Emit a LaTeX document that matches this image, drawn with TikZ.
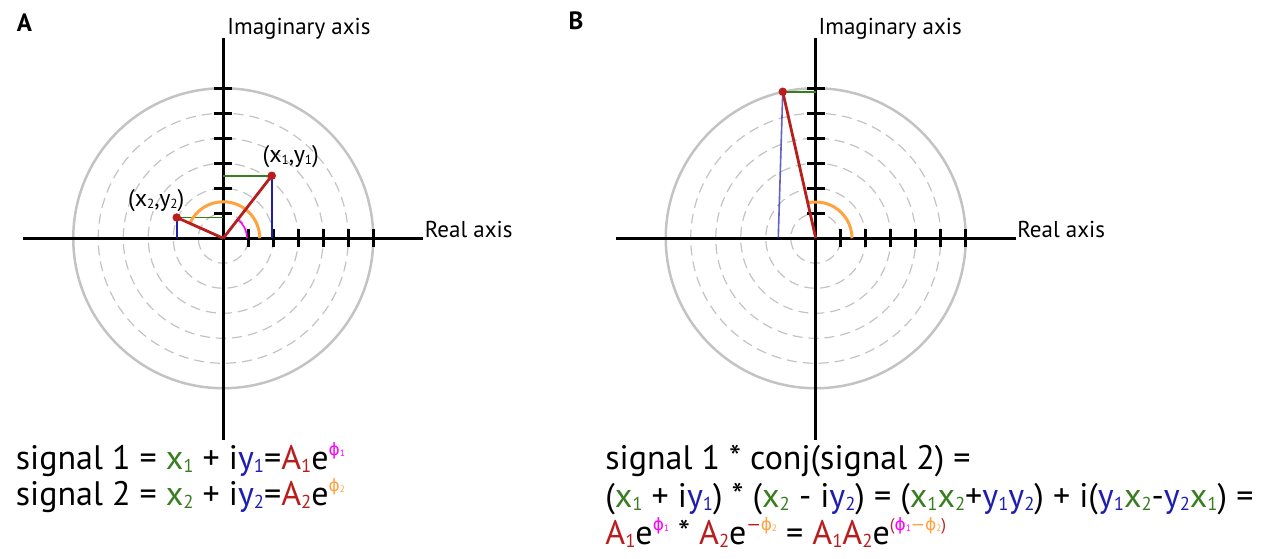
\documentclass[tikz,border=0pt]{standalone}
\usepackage{fontspec}
\setmainfont{PT Sans}
\newfontfamily\greekfont{DejaVu Sans}
\usepackage{graphicx}
\usepackage{xcolor}
\usepackage{tikz}
\usetikzlibrary{calc}
\definecolor{darkred}{RGB}{185,30,30}
\definecolor{darkgreen}{RGB}{56,125,32}
\definecolor{darkblue}{RGB}{30,30,175}
\definecolor{phione}{RGB}{255,0,255}
\definecolor{phitwo}{RGB}{255,162,64}
\definecolor{ringgray}{RGB}{195,195,195}
\newcommand{\subd}[1]{\raisebox{-0.08em}{\scalebox{0.55}{#1}}}
\newcommand{\supr}[1]{\raisebox{0.42em}{\scalebox{0.5}{#1}}}
\newcommand{\phx}[2]{{\color{#1}{\greekfont ϕ}\subd{#2}}}

\begin{document}
\begin{tikzpicture}[x=12.5pt, y=12.5pt, font=\fontsize{17}{20}\selectfont,
    axis/.style={line width=1.5pt, black},
    ring/.style={line width=1.25pt, ringgray},
    ringdash/.style={line width=0.6pt, ringgray, dash pattern=on 5pt off 3pt},
    vector/.style={line width=1.4pt, darkred},
    projx/.style={line width=0.8pt, darkblue},
    projy/.style={line width=0.9pt, darkgreen},
    phaseone/.style={line width=0.8pt, phione},
    phasetwo/.style={line width=1.5pt, phitwo},
    axislabel/.style={anchor=base west, inner sep=0pt, font=\fontsize{11.5}{13}\selectfont},
    ptlabel/.style={font=\fontsize{12}{14}\selectfont},
    panel/.style={font=\fontsize{12.5}{14}\selectfont\bfseries},
    formula/.style={anchor=base west, inner sep=0pt}]
    \useasboundingbox (0,0) rectangle (50.72,22.32);

    % Panel A
    \node[panel] (labA) at (0.98,21.4) {A};
    \begin{scope}[shift={(8.93,12.79)}]
        \foreach \r in {1,...,5}
            \draw[ringdash] (0,0) circle (\r);
        \draw[ring] (0,0) circle (6);
        \draw[axis] (-8,0) -- (8,0);
        \draw[axis] (0,-8.05) -- (0,8);
        \foreach \t in {1,...,6} {
            \draw[axis] (\t,-0.36) -- (\t,0.36);
            \draw[axis] (-0.36,\t) -- (0.36,\t);
        }
        \coordinate (OA) at (0,0);
        \coordinate (P1) at (1.94,2.5);
        \coordinate (P2) at (-1.86,0.83);
        \draw[projy] (P1) -- (P1 -| OA);
        \draw[projx] (P1) -- (P1 |- OA);
        \draw[projy] (P2) -- (P2 -| OA);
        \draw[projx] (P2) -- (P2 |- OA);
        \draw[phaseone] (0.95,0) arc[start angle=0, end angle=52.2, radius=0.95];
        \draw[phasetwo] (1.46,0) arc[start angle=0, end angle=155.9, radius=1.46];
        \draw[vector] (OA) -- (P1);
        \draw[vector] (OA) -- (P2);
        \fill[darkred] (P1) circle (0.17);
        \fill[darkred] (P2) circle (0.17);
        \node[ptlabel] (lP1) at (2.70,3.25) {(x\subd{1},y\subd{1})};
        \node[ptlabel] (lP2) at (-2.68,1.49) {(x\subd{2},y\subd{2})};
        \node[axislabel] (imA) at (0.15,8.13) {Imaginary axis};
        \node[axislabel] (reA) at (8.05,0.05) {Real axis};
    \end{scope}
    \node[formula] (sigA1) at (0.62,3.54) {signal 1 = {\color{darkgreen}x\subd{1}} + i{\color{darkblue}y\subd{1}}={\color{darkred}A\subd{1}}e\supr{\phx{phione}{1}}};
    \node[formula] (sigA2) at (0.62,2.1) {signal 2 = {\color{darkgreen}x\subd{2}} + i{\color{darkblue}y\subd{2}}={\color{darkred}A\subd{2}}e\supr{\phx{phitwo}{2}}};

    % Panel B
    \node[panel] (labB) at (23.04,21.48) {B};
    \begin{scope}[shift={(32.63,12.79)}]
        \foreach \r in {1,...,5}
            \draw[ringdash] (0,0) circle (\r);
        \draw[ring] (0,0) circle (6);
        \draw[axis] (-8,0) -- (8,0);
        \draw[axis] (0,-8.05) -- (0,8);
        \foreach \t in {1,...,6} {
            \draw[axis] (\t,-0.36) -- (\t,0.36);
            \draw[axis] (-0.36,\t) -- (0.36,\t);
        }
        \coordinate (OB) at (0,0);
        \coordinate (Q) at (-1.32,5.86);
        \coordinate (Qx) at (-1.5,0);
        \draw[projy] (Q) -- (Q -| OB);
        \draw[projx, draw opacity=0.7] (Q) -- (Qx);
        \draw[phasetwo] (1.45,0) arc[start angle=0, end angle=102.7, radius=1.45];
        \draw[vector] (OB) -- (Q);
        \fill[darkred] (Q) circle (0.17);
        \node[axislabel] (imB) at (0.1,8.13) {Imaginary axis};
        \node[axislabel] (reB) at (8.05,0.05) {Real axis};
    \end{scope}
    \node[formula] (prod1) at (24.2,3.54) {signal 1 * conj(signal 2) =};
    \node[formula] (prod2) at (24.2,2.02) {({\color{darkgreen}x\subd{1}} + i{\color{darkblue}y\subd{1}}) * ({\color{darkgreen}x\subd{2}} - i{\color{darkblue}y\subd{2}}) = ({\color{darkgreen}x\subd{1}x\subd{2}}+{\color{darkblue}y\subd{1}y\subd{2}}) + i({\color{darkblue}y\subd{1}}{\color{darkgreen}x\subd{2}}-{\color{darkblue}y\subd{2}}{\color{darkgreen}x\subd{1}}) =};
    \node[formula] (prod3) at (24.2,0.54) {{\color{darkred}A\subd{1}}e\supr{\phx{phione}{1}} * {\color{darkred}A\subd{2}}e\supr{{\color{darkred}{\greekfont −}}\phx{phitwo}{2}} = {\color{darkred}A\subd{1}A\subd{2}}e\supr{{\color{darkred}(}\phx{phione}{1}{\color{phitwo}{\greekfont −}}\phx{phitwo}{2}{\color{darkred})}}};
\end{tikzpicture}
\end{document}
